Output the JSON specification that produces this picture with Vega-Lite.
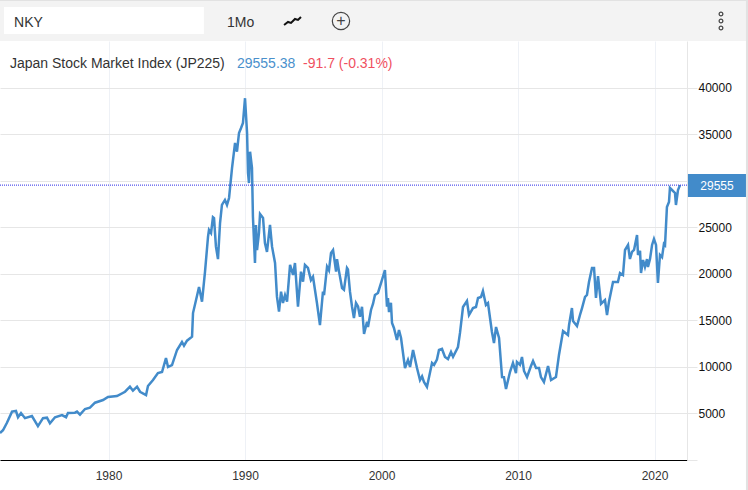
{"$schema":"https://vega.github.io/schema/vega-lite/v6.json","width":687,"height":419,"autosize":"none","padding":{"top":41,"left":0,"right":61,"bottom":30},"background":"#ffffff","view":{"stroke":null},"config":{"font":"Liberation Sans"},
"encoding":{"x":{"field":"year","type":"quantitative","scale":{"domain":[1972.05,2022.38],"nice":false,"zero":false},"axis":{"orient":"bottom","title":null,"values":[1980,1990,2000,2010,2020],"format":"d","grid":true,"gridColor":"#eef1f6","gridWidth":1,"domain":true,"domainColor":"#000000","domainWidth":1,"ticks":false,"labelPadding":10,"labelFontSize":12,"labelColor":"#333333","labelFont":"Liberation Sans"}},
"y":{"field":"value","type":"quantitative","scale":{"domain":[0,45050],"nice":false,"zero":false},"axis":{"orient":"right","title":null,"values":[0,5000,10000,15000,20000,25000,30000,35000,40000],"labelExpr":"(datum.value==0||datum.value==30000)?'':datum.value","grid":true,"gridColor":"#e6e6e6","gridWidth":1,"domain":true,"domainColor":"#e6e6e6","domainWidth":1,"ticks":true,"tickColor":"#e6e6e6","tickSize":10,"labelPadding":1,"labelFontSize":12,"labelColor":"#111111","labelFont":"Liberation Sans"}}},
"layer":[
{"data":{"values":[{"part":"header","year":1972.05,"year2":2026.85,"value":45050,"value2":49462}]},"mark":{"type":"rect","color":"#f3f3f3"},"encoding":{"x2":{"field":"year2"},"y2":{"field":"value2"}}},
{"data":{"values":[{"part":"top edge","year":1972.05,"year2":2026.85,"value":49355,"value2":49462},{"part":"right edge","year":2026.7,"year2":2026.85,"value":-3226,"value2":49462}]},"mark":{"type":"rect","color":"#e2e2e2"},"encoding":{"x2":{"field":"year2"},"y2":{"field":"value2"}}},
{"data":{"values":[{"part":"search","year":1972.34,"year2":1986.99,"value":45806,"value2":48710}]},"mark":{"type":"rect","color":"#ffffff"},"encoding":{"x2":{"field":"year2"},"y2":{"field":"value2"}}},
{"data":{"values":[{"year":1972.05,"value":2900},{"year":1972.27,"value":3200},{"year":1972.56,"value":4000},{"year":1972.93,"value":5200},{"year":1973.22,"value":5270},{"year":1973.37,"value":4600},{"year":1973.59,"value":5050},{"year":1973.88,"value":4500},{"year":1974.39,"value":4730},{"year":1974.83,"value":3650},{"year":1975.2,"value":4500},{"year":1975.49,"value":4550},{"year":1975.71,"value":3950},{"year":1976.08,"value":4600},{"year":1976.59,"value":4830},{"year":1976.89,"value":4600},{"year":1977.03,"value":5050},{"year":1977.54,"value":5090},{"year":1977.69,"value":5200},{"year":1977.91,"value":4870},{"year":1978.28,"value":5480},{"year":1978.64,"value":5620},{"year":1979.01,"value":6160},{"year":1979.6,"value":6450},{"year":1979.96,"value":6770},{"year":1980.62,"value":6880},{"year":1981.21,"value":7340},{"year":1981.57,"value":7880},{"year":1981.79,"value":7450},{"year":1982.09,"value":7880},{"year":1982.31,"value":7340},{"year":1982.75,"value":6990},{"year":1982.89,"value":7960},{"year":1983.26,"value":8600},{"year":1983.62,"value":9350},{"year":1983.92,"value":9460},{"year":1984.21,"value":10960},{"year":1984.36,"value":10000},{"year":1984.65,"value":10200},{"year":1985.02,"value":11830},{"year":1985.38,"value":12690},{"year":1985.53,"value":12290},{"year":1985.75,"value":12830},{"year":1986.12,"value":13260},{"year":1986.19,"value":15800},{"year":1986.48,"value":17630},{"year":1986.63,"value":18600},{"year":1986.85,"value":17020},{"year":1987.07,"value":20250},{"year":1987.29,"value":24010},{"year":1987.36,"value":24730},{"year":1987.51,"value":24400},{"year":1987.65,"value":26100},{"year":1987.73,"value":26000},{"year":1987.87,"value":22940},{"year":1988.02,"value":21600},{"year":1988.17,"value":25480},{"year":1988.31,"value":27420},{"year":1988.53,"value":27960},{"year":1988.68,"value":27420},{"year":1988.83,"value":28170},{"year":1989.05,"value":31400},{"year":1989.27,"value":34090},{"year":1989.41,"value":33150},{"year":1989.56,"value":35160},{"year":1989.71,"value":35700},{"year":1989.85,"value":36240},{"year":1990.0,"value":38900},{"year":1990.15,"value":35160},{"year":1990.22,"value":30860},{"year":1990.29,"value":29780},{"year":1990.37,"value":33150},{"year":1990.51,"value":31400},{"year":1990.58,"value":26160},{"year":1990.73,"value":21180},{"year":1990.8,"value":25270},{"year":1990.88,"value":22580},{"year":1991.02,"value":24400},{"year":1991.1,"value":26450},{"year":1991.32,"value":26020},{"year":1991.46,"value":23330},{"year":1991.61,"value":22370},{"year":1991.83,"value":25270},{"year":1991.98,"value":22940},{"year":1992.2,"value":21180},{"year":1992.34,"value":17560},{"year":1992.49,"value":15950},{"year":1992.64,"value":18100},{"year":1992.78,"value":16880},{"year":1992.93,"value":17740},{"year":1993.08,"value":17020},{"year":1993.3,"value":20970},{"year":1993.52,"value":19890},{"year":1993.66,"value":21180},{"year":1993.88,"value":16480},{"year":1994.1,"value":20250},{"year":1994.25,"value":19170},{"year":1994.39,"value":20970},{"year":1994.61,"value":20650},{"year":1994.83,"value":19350},{"year":1994.98,"value":19700},{"year":1995.27,"value":16880},{"year":1995.49,"value":14500},{"year":1995.71,"value":18100},{"year":1995.79,"value":17740},{"year":1996.01,"value":20790},{"year":1996.15,"value":20400},{"year":1996.3,"value":22260},{"year":1996.45,"value":22580},{"year":1996.67,"value":20250},{"year":1996.74,"value":21600},{"year":1996.89,"value":20250},{"year":1997.11,"value":18490},{"year":1997.25,"value":18300},{"year":1997.47,"value":20650},{"year":1997.54,"value":20500},{"year":1997.69,"value":18100},{"year":1997.84,"value":16480},{"year":1997.98,"value":15270},{"year":1998.13,"value":16880},{"year":1998.28,"value":16500},{"year":1998.42,"value":15410},{"year":1998.57,"value":16480},{"year":1998.72,"value":13550},{"year":1998.94,"value":14870},{"year":1999.01,"value":14300},{"year":1999.23,"value":16130},{"year":1999.38,"value":16800},{"year":1999.52,"value":17740},{"year":1999.74,"value":17960},{"year":2000.03,"value":19350},{"year":2000.25,"value":20430},{"year":2000.4,"value":16480},{"year":2000.47,"value":17420},{"year":2000.55,"value":15900},{"year":2000.69,"value":16900},{"year":2000.77,"value":14730},{"year":2000.91,"value":14200},{"year":2001.13,"value":12900},{"year":2001.28,"value":13980},{"year":2001.43,"value":13120},{"year":2001.72,"value":9890},{"year":2001.94,"value":10750},{"year":2002.09,"value":10000},{"year":2002.31,"value":11830},{"year":2002.6,"value":9890},{"year":2002.82,"value":8600},{"year":2002.97,"value":9000},{"year":2003.11,"value":8390},{"year":2003.33,"value":7850},{"year":2003.7,"value":10430},{"year":2003.85,"value":10220},{"year":2004.06,"value":10800},{"year":2004.21,"value":11830},{"year":2004.43,"value":11940},{"year":2004.65,"value":11080},{"year":2004.87,"value":10860},{"year":2005.09,"value":11610},{"year":2005.24,"value":11100},{"year":2005.6,"value":12150},{"year":2005.75,"value":13660},{"year":2005.97,"value":16450},{"year":2006.26,"value":17100},{"year":2006.41,"value":15590},{"year":2006.7,"value":16340},{"year":2006.92,"value":16450},{"year":2007.07,"value":17420},{"year":2007.29,"value":17530},{"year":2007.43,"value":18170},{"year":2007.65,"value":16670},{"year":2007.8,"value":16880},{"year":2008.09,"value":13760},{"year":2008.24,"value":12580},{"year":2008.39,"value":14300},{"year":2008.61,"value":13120},{"year":2008.83,"value":8920},{"year":2008.97,"value":8900},{"year":2009.12,"value":7630},{"year":2009.41,"value":9460},{"year":2009.63,"value":10430},{"year":2009.85,"value":9350},{"year":2009.92,"value":10540},{"year":2010.14,"value":10220},{"year":2010.29,"value":11080},{"year":2010.44,"value":9570},{"year":2010.66,"value":8920},{"year":2010.95,"value":10110},{"year":2011.1,"value":10640},{"year":2011.32,"value":9890},{"year":2011.54,"value":9890},{"year":2011.68,"value":8920},{"year":2011.9,"value":8390},{"year":2012.2,"value":10110},{"year":2012.42,"value":8600},{"year":2012.78,"value":8920},{"year":2013.0,"value":11290},{"year":2013.3,"value":13870},{"year":2013.66,"value":13440},{"year":2013.74,"value":14520},{"year":2013.95,"value":16340},{"year":2014.03,"value":14950},{"year":2014.32,"value":14410},{"year":2014.54,"value":15590},{"year":2014.69,"value":16340},{"year":2014.91,"value":17530},{"year":2015.05,"value":17740},{"year":2015.2,"value":19140},{"year":2015.42,"value":20650},{"year":2015.57,"value":20650},{"year":2015.71,"value":17420},{"year":2015.86,"value":19780},{"year":2016.08,"value":16800},{"year":2016.37,"value":17200},{"year":2016.52,"value":15590},{"year":2016.66,"value":16990},{"year":2016.96,"value":19140},{"year":2017.32,"value":19140},{"year":2017.47,"value":20110},{"year":2017.69,"value":19890},{"year":2017.84,"value":22580},{"year":2018.06,"value":23120},{"year":2018.2,"value":21610},{"year":2018.35,"value":22370},{"year":2018.5,"value":22580},{"year":2018.72,"value":24190},{"year":2018.79,"value":22040},{"year":2018.94,"value":22500},{"year":2019.01,"value":20110},{"year":2019.16,"value":21500},{"year":2019.3,"value":20750},{"year":2019.45,"value":21600},{"year":2019.52,"value":20750},{"year":2019.67,"value":21600},{"year":2019.82,"value":23120},{"year":2019.96,"value":23760},{"year":2020.11,"value":23120},{"year":2020.25,"value":19030},{"year":2020.4,"value":22040},{"year":2020.55,"value":21800},{"year":2020.69,"value":23230},{"year":2020.77,"value":23100},{"year":2020.91,"value":27200},{"year":2021.06,"value":27740},{"year":2021.13,"value":29250},{"year":2021.28,"value":29030},{"year":2021.5,"value":28710},{"year":2021.57,"value":27420},{"year":2021.72,"value":29030},{"year":2021.87,"value":29555}]},"mark":{"type":"line","color":"#428bca","strokeWidth":2.5,"interpolate":"linear"}},
{"data":{"values":[{"year":1972.05,"value":29555},{"year":2022.38,"value":29555}]},"mark":{"type":"line","color":"#2a2ae6","strokeWidth":1,"strokeDash":[1,1]}},
{"data":{"values":[{"part":"last price box","year":2022.45,"year2":2026.7,"value":28280,"value2":30753}]},"mark":{"type":"rect","color":"#428bca"},"encoding":{"x2":{"field":"year2"},"y2":{"field":"value2"}}},
{"data":{"values":[{"year":2024.58,"value":29420,"label":"29555"}]},"mark":{"type":"text","color":"#ffffff","fontSize":12,"align":"center","baseline":"middle"},"encoding":{"text":{"field":"label"}}},
{"data":{"values":[{"year":1973.08,"value":47000,"label":"NKY"},{"year":1988.68,"value":47000,"label":"1Mo"}]},"mark":{"type":"text","color":"#333333","fontSize":14,"align":"left","baseline":"middle"},"encoding":{"text":{"field":"label"}}},
{"data":{"values":[{"year":1972.78,"value":42580,"label":"Japan Stock Market Index (JP225)"}]},"mark":{"type":"text","color":"#333333","fontSize":14,"align":"left","baseline":"middle"},"encoding":{"text":{"field":"label"}}},
{"data":{"values":[{"year":1989.41,"value":42580,"label":"29555.38"}]},"mark":{"type":"text","color":"#4a90cc","fontSize":14,"align":"left","baseline":"middle"},"encoding":{"text":{"field":"label"}}},
{"data":{"values":[{"year":1994.25,"value":42580,"label":"-91.7 (-0.31%)"}]},"mark":{"type":"text","color":"#f0505f","fontSize":14,"align":"left","baseline":"middle"},"encoding":{"text":{"field":"label"}}},
{"data":{"values":[{"year":1992.86,"value":46774},{"year":1993.15,"value":47097},{"year":1993.37,"value":46989},{"year":1993.66,"value":47419},{"year":1993.88,"value":47312},{"year":1994.1,"value":47634}]},"mark":{"type":"line","color":"#111111","strokeWidth":2}},
{"data":{"values":[{"year":1997.03,"value":47204}]},"mark":{"type":"point","shape":"circle","filled":false,"size":300,"color":"#444444","strokeWidth":1.2,"opacity":1}},
{"data":{"values":[{"year":1997.03,"value":47150,"label":"+"}]},"mark":{"type":"text","color":"#444444","fontSize":16,"align":"center","baseline":"middle"},"encoding":{"text":{"field":"label"}}},
{"data":{"values":[{"year":2024.87,"value":47957},{"year":2024.87,"value":47204},{"year":2024.87,"value":46452}]},"mark":{"type":"point","shape":"circle","filled":false,"size":14,"color":"#444444","strokeWidth":1.2,"opacity":1}}
]}
